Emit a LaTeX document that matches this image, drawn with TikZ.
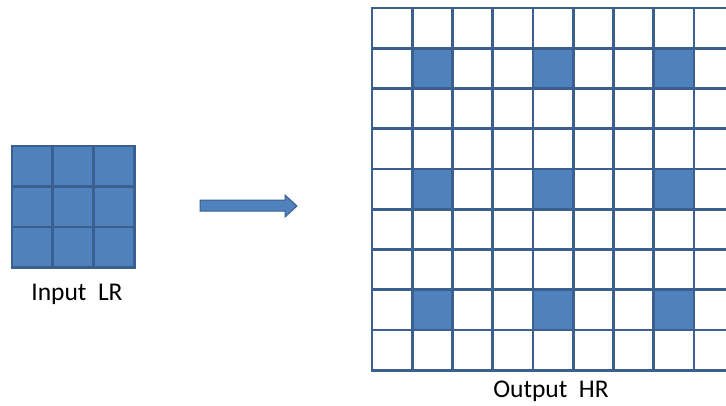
\documentclass[tikz,border=0pt]{standalone}
\usepackage{fontspec}
\setmainfont{Carlito}
\definecolor{cellfill}{HTML}{4F81BD}
\definecolor{cellline}{HTML}{3B5F8E}
\begin{document}
\begin{tikzpicture}[x=1pt,y=-1pt,
  gridline/.style={draw=cellline,line width=2.8pt},
  fullcell/.style={gridline,fill=cellfill},
  emptycell/.style={gridline,fill=white},
  caption/.style={font=\fontsize{25.5}{30}\selectfont,text=black,inner sep=0pt}]
  \useasboundingbox (0,0) rectangle (726,405);
  \clip (0,0) rectangle (726,405);
  % low-resolution input: 3x3 filled grid
  \foreach \i in {0,1,2}{
    \foreach \j in {0,1,2}{
      \path[fullcell] ({12+40.7*\i},{146+40.5*\j}) rectangle ++(40.7,40.5);
    }
  }
  \node[caption] (inlabel) at (77,294) {Input\ \ LR};
  % upsampling arrow
  \path[fill=cellfill,draw=cellline,line width=1pt]
    (200,200) -- (285,200) -- (285,195) -- (297,206) -- (285,217)
    -- (285,211) -- (200,211) -- cycle;
  % high-resolution output: 9x9 grid of empty cells
  \foreach \i in {0,...,8}{
    \foreach \j in {0,...,8}{
      \path[emptycell] ({372+40.25*\i},{8+40.25*\j}) rectangle ++(40.25,40.25);
    }
  }
  % known pixels, every third cell
  \foreach \i in {1,4,7}{
    \foreach \j in {1,4,7}{
      \path[fullcell] ({372+40.25*\i},{8+40.25*\j}) rectangle ++(40.25,40.25);
    }
  }
  \node[caption] (outlabel) at (551,391.5) {Output\ \ HR};
\end{tikzpicture}
\end{document}
